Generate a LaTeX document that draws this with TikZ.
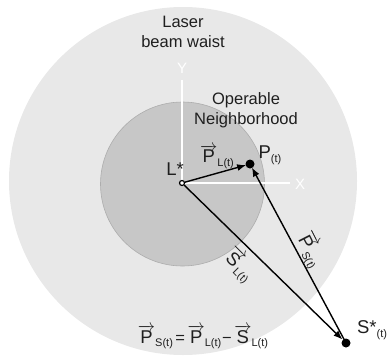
\documentclass[tikz,border=0pt]{standalone}
\usepackage{fontspec}
\setmainfont{Liberation Sans}
\usetikzlibrary{arrows.meta}
\newcommand\symb[1]{{\fontsize{18.5}{20}\selectfont #1}}
\newcommand\vecarr[1]{$\overrightarrow{\mbox{\symb{#1}}}$}
\newcommand\subt[1]{\raisebox{-0.45ex}{\fontsize{11}{12}\selectfont #1}}
\begin{document}
\begin{tikzpicture}[x=1pt,y=-1pt,
  lbl/.style={font=\fontsize{16.5}{20}\selectfont, text=black!88, align=center, inner sep=0pt},
  axislbl/.style={font=\fontsize{15}{16}\selectfont, text=white, inner sep=0pt},
  vecline/.style={line width=1.4pt, -{Latex[length=9pt,width=7pt]}}]
\useasboundingbox (0,0) rectangle (387,356);
\fill[black!9] (183,181) circle (174);
\filldraw[fill=black!22, draw=black!32, line width=0.6pt] (182.5,184) circle (82);
\coordinate (L) at (182,183);
\coordinate (P) at (250,164);
\coordinate (S) at (346,343);
\coordinate (Xe) at (290,183);
\coordinate (Ye) at (182,80);
\draw[white, line width=2pt] (Ye) -- (L) -- (Xe);
\node[axislbl] (Y) at (182,68) {Y};
\node[axislbl] (X) at (300,184) {X};
\draw[vecline, shorten <=3pt, shorten >=4pt] (L) -- (P);
\draw[vecline, shorten <=3pt, shorten >=5pt] (L) -- (S);
\draw[vecline, shorten <=4pt, shorten >=4pt] (S) -- (P);
\fill (P) circle (4.5);
\fill (S) circle (4.5);
\filldraw[fill=white, draw=black, line width=1.2pt] (L) circle (2.5);
\node[lbl] (laser) at (183,32) {Laser\\beam waist};
\node[lbl] (op) at (246,110) {Operable\\Neighborhood};
\node[lbl] (Lstar) at (175,169) {\symb{L*}};
\node[lbl] (Pt) at (270,155) {\symb{P}\subt{(t)}};
\node[lbl] (PL) at (217,157) {\vecarr{P}\subt{L(t)}};
\node[lbl, rotate=-45] (SL) at (239,265) {\vecarr{S}\subt{L(t)}};
\node[lbl, rotate=-63] (PS) at (310,250) {\vecarr{P}\subt{S(t)}};
\node[lbl] (Sstar) at (372,330) {\symb{S*}\subt{(t)}};
\node[lbl] (eq) at (203,337) {\vecarr{P}\subt{S(t)}\hspace{0.15em}=\hspace{0.15em}\vecarr{P}\subt{L(t)}\hspace{0.05em}−\hspace{0.15em}\vecarr{S}\subt{L(t)}};
\end{tikzpicture}
\end{document}
